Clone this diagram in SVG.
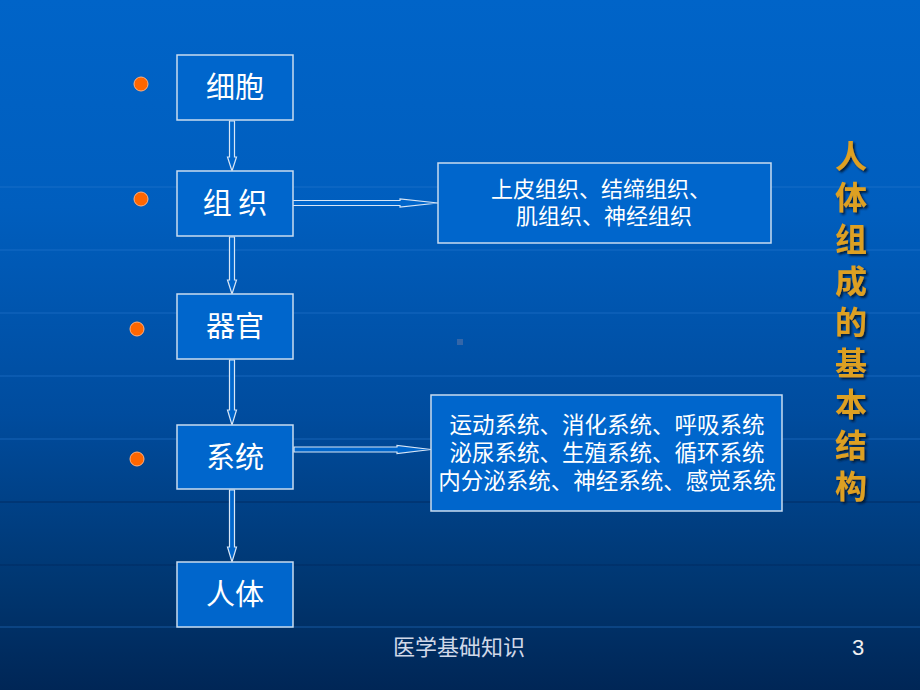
<svg xmlns="http://www.w3.org/2000/svg" width="920" height="690" viewBox="0 0 920 690">
<defs>
<linearGradient id="bg" x1="0" y1="0" x2="0" y2="1">
<stop offset="0" stop-color="#0064C8"/>
<stop offset="0.3" stop-color="#005EBE"/>
<stop offset="0.6" stop-color="#004C9E"/>
<stop offset="0.85" stop-color="#003670"/>
<stop offset="1" stop-color="#002656"/>
</linearGradient>
<filter id="sh" x="-20%" y="-20%" width="140%" height="140%">
<feDropShadow dx="2" dy="2" stdDeviation="0.8" flood-color="#001530" flood-opacity="0.9"/>
</filter>
<style>
.box{fill:#0066CC;stroke:#C8DCF0;stroke-width:1.5}
.lbl{font-family:"Noto Sans CJK SC","Noto Sans",sans-serif;fill:#FFFFFF;font-size:29px;text-anchor:middle}
.desc{font-family:"Noto Sans CJK SC","Noto Sans",sans-serif;fill:#FFFFFF;font-size:22px;text-anchor:middle}
.arr{fill:#0066CC;stroke:#D8E6F6;stroke-width:1.2;stroke-linejoin:miter}
.dot{fill:#FF6600;stroke:#FFB080;stroke-width:1}
.vt{font-family:"Noto Sans CJK SC",serif;font-weight:bold;fill:#DDA020;font-size:32px;text-anchor:middle}
.hl{stroke:#2A78D0;stroke-width:2;opacity:0.28}
.hd{stroke:#002A60;stroke-width:2;opacity:0.45}
</style>
</defs>
<rect x="0" y="0" width="920" height="690" fill="url(#bg)"/>
<g id="bglines">
<line class="hl" x1="0" y1="187" x2="920" y2="187"/>
<line class="hl" x1="0" y1="250" x2="920" y2="250"/>
<line class="hl" x1="0" y1="313" x2="920" y2="313"/>
<line class="hl" x1="0" y1="376" x2="920" y2="376"/>
<line class="hl" x1="0" y1="439" x2="920" y2="439"/>
<line class="hd" x1="0" y1="502" x2="920" y2="502"/>
<line class="hd" x1="0" y1="565" x2="920" y2="565"/>
<line class="hl" x1="0" y1="627" x2="920" y2="627"/>
</g>
<rect x="457" y="339" width="6" height="6" fill="#4A6FA8" opacity="0.7"/>
<g id="connectors">
<path class="arr" d="M229.5,121 L234.5,121 L234.5,157 L236.5,157 L232,171 L227.5,157 L229.5,157 Z"/>
<path class="arr" d="M229.5,237 L234.5,237 L234.5,280 L236.5,280 L232,294 L227.5,280 L229.5,280 Z"/>
<path class="arr" d="M229.5,360 L234.5,360 L234.5,410 L236.5,410 L232,425 L227.5,410 L229.5,410 Z"/>
<path class="arr" d="M229.5,490 L234.5,490 L234.5,547 L236.5,547 L232,562 L227.5,547 L229.5,547 Z"/>
<path class="arr" d="M291,200.5 L400,200.5 L400,199 L438,203 L400,207 L400,205.5 L291,205.5 Z"/>
<path class="arr" d="M294,447 L397,447 L397,445.5 L431,449.5 L397,453.5 L397,452 L294,452 Z"/>
</g>
<g id="bullets">
<circle class="dot" cx="141" cy="84" r="7"/>
<circle class="dot" cx="141" cy="199" r="7"/>
<circle class="dot" cx="137" cy="329" r="7"/>
<circle class="dot" cx="137" cy="459" r="7"/>
</g>
<g id="n-cell"><rect class="box" x="177" y="55" width="116" height="65"/><text class="lbl" x="235" y="98">细胞</text></g>
<g id="n-tissue"><rect class="box" x="177" y="171" width="116" height="65"/><text class="lbl" x="235" y="214" xml:space="preserve">组 织</text></g>
<g id="n-organ"><rect class="box" x="177" y="294" width="116" height="65"/><text class="lbl" x="235" y="337">器官</text></g>
<g id="n-system"><rect class="box" x="177" y="425" width="116" height="64"/><text class="lbl" x="235" y="468">系统</text></g>
<g id="n-body"><rect class="box" x="177" y="562" width="116" height="65"/><text class="lbl" x="235" y="605">人体</text></g>
<g id="n-tissues"><rect class="box" x="438" y="163" width="333" height="80"/>
<text class="desc" x="601" y="197">上皮组织、结缔组织、</text>
<text class="desc" x="604" y="224">肌组织、神经组织</text></g>
<g id="n-systems"><rect class="box" x="431" y="395" width="351" height="116"/>
<text class="desc" x="607" y="433" style="font-size:22.5px">运动系统、消化系统、呼吸系统</text>
<text class="desc" x="607" y="461" style="font-size:22.5px">泌尿系统、生殖系统、循环系统</text>
<text class="desc" x="607" y="489" style="font-size:22.5px">内分泌系统、神经系统、感觉系统</text></g>
<g id="title" filter="url(#sh)">
<text class="vt" x="851" y="168">人</text>
<text class="vt" x="851" y="209">体</text>
<text class="vt" x="851" y="251">组</text>
<text class="vt" x="851" y="293">成</text>
<text class="vt" x="851" y="334">的</text>
<text class="vt" x="851" y="375">基</text>
<text class="vt" x="851" y="416">本</text>
<text class="vt" x="851" y="457">结</text>
<text class="vt" x="851" y="498">构</text>
</g>
<g id="footer">
<text x="459" y="655" font-family="Noto Sans CJK SC,sans-serif" font-size="22" fill="#D0D8E8" text-anchor="middle">医学基础知识</text>
<text x="858" y="655" font-family="Liberation Sans,sans-serif" font-size="22" fill="#F0F0F0" text-anchor="middle">3</text>
</g>
</svg>
